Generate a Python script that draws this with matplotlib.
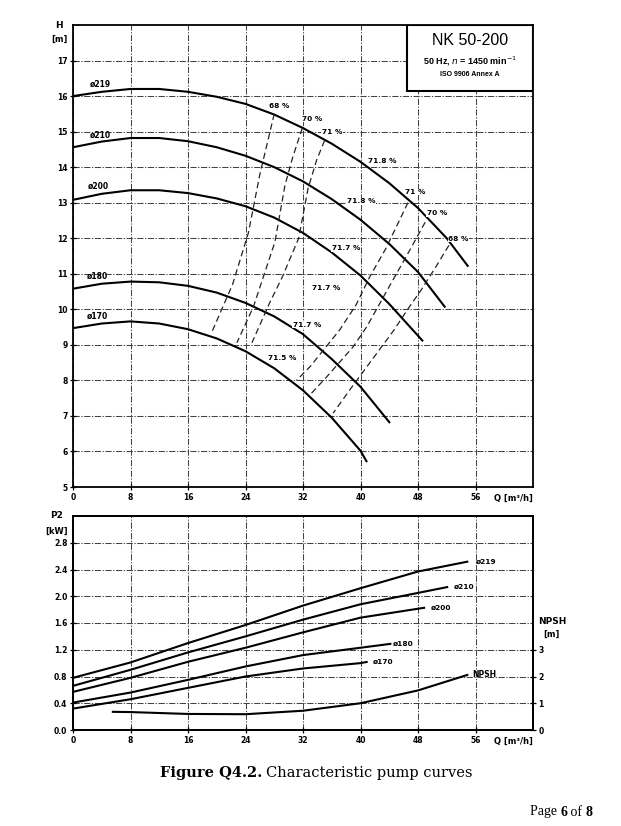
import matplotlib
matplotlib.use('Agg')
import matplotlib.pyplot as plt
from matplotlib.patches import Rectangle

# ---------------- data ----------------
q_ticks = [0, 8, 16, 24, 32, 40, 48, 56]
q_tick_labels = ['0', '8', '16', '24', '32', '40', '48', '56']
h_ticks = [5, 6, 7, 8, 9, 10, 11, 12, 13, 14, 15, 16, 17]
p_ticks = [0.0, 0.4, 0.8, 1.2, 1.6, 2.0, 2.4, 2.8]
p_tick_labels = ['0.0', '0.4', '0.8', '1.2', '1.6', '2.0', '2.4', '2.8']
npsh_ticks = [0, 1, 2, 3]

# H(Q) curves
q_h219 = [0, 4, 8, 12, 16, 20, 24, 28, 32, 36, 40, 44, 48, 52, 55]
h_h219 = [16.0, 16.12, 16.2, 16.2, 16.12, 15.98, 15.78, 15.48, 15.1, 14.66, 14.15, 13.55, 12.85, 12.0, 11.2]
q_h210 = [0, 4, 8, 12, 16, 20, 24, 28, 32, 36, 40, 44, 48, 51.8]
h_h210 = [14.56, 14.72, 14.82, 14.82, 14.73, 14.56, 14.32, 14.0, 13.6, 13.1, 12.52, 11.84, 11.05, 10.05]
q_h200 = [0, 4, 8, 12, 16, 20, 24, 28, 32, 36, 40, 44, 48.7]
h_h200 = [13.08, 13.25, 13.35, 13.35, 13.27, 13.12, 12.9, 12.58, 12.15, 11.6, 10.95, 10.15, 9.1]
q_h180 = [0, 4, 8, 12, 16, 20, 24, 28, 32, 36, 40, 44.1]
h_h180 = [10.58, 10.72, 10.78, 10.76, 10.66, 10.47, 10.18, 9.8, 9.3, 8.6, 7.82, 6.8]
q_h170 = [0, 4, 8, 12, 16, 20, 24, 28, 32, 36, 40, 40.9]
h_h170 = [9.47, 9.6, 9.66, 9.6, 9.44, 9.18, 8.82, 8.34, 7.72, 6.95, 6.02, 5.7]

diam_labels = ['ø219', 'ø210', 'ø200', 'ø180', 'ø170']
diam_label_q = [2.3, 2.3, 2.1, 1.9, 1.9]
diam_label_h = [16.32, 14.9, 13.46, 10.93, 9.8]

# iso-efficiency (dashed) lines
q_e68l = [28.0, 26.0, 24.4, 22.2, 19.3]
h_e68l = [15.5, 13.8, 12.15, 10.7, 9.35]
q_e70l = [31.9, 30.6, 29.5, 28.1, 25.1, 22.8]
h_e70l = [15.1, 14.3, 13.5, 11.9, 10.07, 9.06]
q_e71l = [35.0, 33.9, 32.7, 31.4, 29.1, 27.4, 24.9]
h_e71l = [14.75, 14.2, 13.4, 12.0, 10.9, 10.2, 9.06]
q_e71r = [46.6, 43.5, 41.3, 39.4, 37.1, 33.0, 31.1]
h_e71r = [13.0, 11.7, 10.92, 10.13, 9.42, 8.39, 8.0]
q_e70r = [49.0, 46.4, 44.3, 40.9, 39.0, 35.3, 33.0]
h_e70r = [12.45, 11.5, 10.75, 9.52, 8.95, 8.1, 7.6]
q_e68r = [52.3, 50.5, 48.3, 46.9, 44.6, 41.6, 38.5, 36.2]
h_e68r = [11.8, 11.2, 10.5, 10.1, 9.4, 8.58, 7.73, 7.08]

eff_labels = ['68 %', '70 %', '71 %', '71.8 %', '71 %', '70 %', '68 %',
              '71.8 %', '71.7 %', '71.7 %', '71.7 %', '71.5 %']
eff_label_q = [27.3, 31.8, 34.6, 41.1, 46.2, 49.2, 52.2, 38.1, 36.0, 33.2, 30.6, 27.1]
eff_label_h = [15.73, 15.36, 15.0, 14.16, 13.3, 12.7, 11.98, 13.04, 11.72, 10.6, 9.56, 8.62]

# P2(Q) curves
q_p219 = [0, 8, 16, 24, 32, 40, 48, 55]
p_p219 = [0.78, 1.01, 1.30, 1.57, 1.86, 2.12, 2.37, 2.52]
q_p210 = [0, 8, 16, 24, 32, 40, 48, 52.2]
p_p210 = [0.66, 0.90, 1.16, 1.40, 1.65, 1.88, 2.05, 2.14]
q_p200 = [0, 8, 16, 24, 32, 40, 49]
p_p200 = [0.57, 0.78, 1.02, 1.23, 1.46, 1.68, 1.83]
q_p180 = [0, 8, 16, 24, 32, 40, 44.3]
p_p180 = [0.41, 0.56, 0.75, 0.95, 1.12, 1.23, 1.29]
q_p170 = [0, 8, 16, 24, 32, 40, 41]
p_p170 = [0.32, 0.46, 0.63, 0.80, 0.92, 1.00, 1.02]
p_label_q = [56.0, 52.9, 49.7, 44.5, 41.7]
p_label_p = [2.52, 2.14, 1.83, 1.29, 1.02]

# NPSH curve (m)
q_npsh = [5.4, 8, 16, 24, 32, 40, 48, 55]
v_npsh = [0.68, 0.67, 0.60, 0.59, 0.72, 1.0, 1.48, 2.07]

# ---------------- figure ----------------
W, Hpx = 621, 826
fig = plt.figure(figsize=(W / 100, Hpx / 100), dpi=100)
fig.patch.set_facecolor('white')

ax1 = fig.add_axes([73 / W, 1 - 487 / Hpx, 460 / W, 462 / Hpx])
ax2 = fig.add_axes([73 / W, 1 - 730 / Hpx, 460 / W, 214 / Hpx])

grid_kw = dict(color='#444444', lw=0.75, ls=(0, (6, 1.5, 1.2, 1.5)))
tick_font = dict(fontsize=5.5, fontweight='bold', family='DejaVu Sans')
curve_kw = dict(color='black', lw=1.5, solid_capstyle='butt', solid_joinstyle='round')
dash_kw = dict(color='#222222', lw=0.9, ls=(0, (5, 3)))

for ax in (ax1, ax2):
    ax.set_xlim(0, 64)
    ax.set_xticks(q_ticks)
    ax.set_xticklabels(q_tick_labels, **tick_font)
    ax.grid(True, **grid_kw)
    ax.set_axisbelow(True)
    for s in ax.spines.values():
        s.set_linewidth(1.3)
    ax.tick_params(direction='inout', length=4, width=0.9, pad=2)

# ---- top panel ----
ax1.set_ylim(5, 18)
ax1.set_yticks(h_ticks)
ax1.set_yticklabels([str(v) for v in h_ticks], **tick_font)

for q, h in [(q_h219, h_h219), (q_h210, h_h210), (q_h200, h_h200),
             (q_h180, h_h180), (q_h170, h_h170)]:
    ax1.plot(q, h, **curve_kw)

for q, h in [(q_e68l, h_e68l), (q_e70l, h_e70l), (q_e71l, h_e71l),
             (q_e71r, h_e71r), (q_e70r, h_e70r), (q_e68r, h_e68r)]:
    ax1.plot(q, h, **dash_kw)

for t, q, h in zip(diam_labels, diam_label_q, diam_label_h):
    ax1.text(q, h, t, fontsize=5.5, fontweight='bold', ha='left', va='center')

for t, q, h in zip(eff_labels, eff_label_q, eff_label_h):
    ax1.text(q, h, t, fontsize=5.3, fontweight='bold', ha='left', va='center',
             bbox=dict(facecolor='white', edgecolor='none', pad=0.3))

# title box
ax1.add_patch(Rectangle((46.5, 16.13), 17.5, 1.87, facecolor='white',
                        edgecolor='black', lw=1.5, zorder=5))
ax1.text(55.25, 17.55, 'NK 50-200', fontsize=11.5, ha='center', va='center', zorder=6,
         family='Liberation Sans')
ax1.text(55.25, 16.98, '50 Hz, $\\it{n}$ = 1450 min$^{-1}$', fontsize=6.5,
         fontweight='bold', ha='center', va='center', zorder=6, family='Liberation Sans')
ax1.text(55.25, 16.6, 'ISO 9906 Annex A', fontsize=5, fontweight='bold',
         ha='center', va='center', zorder=6, family='Liberation Sans')

ax1.text(-0.03, 1.0, 'H', transform=ax1.transAxes, fontsize=6.5, fontweight='bold',
         ha='center', va='center')
ax1.text(-0.03, 0.97, '[m]', transform=ax1.transAxes, fontsize=6, fontweight='bold',
         ha='center', va='center')
ax1.text(1.0, -0.024, 'Q [m³/h]', transform=ax1.transAxes, fontsize=6,
         fontweight='bold', ha='right', va='center')

# ---- bottom panel ----
ax2.set_ylim(0, 3.2)
ax2.set_yticks(p_ticks)
ax2.set_yticklabels(p_tick_labels, **tick_font)

for q, p in [(q_p219, p_p219), (q_p210, p_p210), (q_p200, p_p200),
             (q_p180, p_p180), (q_p170, p_p170)]:
    ax2.plot(q, p, **curve_kw)
for t, q, p in zip(diam_labels, p_label_q, p_label_p):
    ax2.text(q, p, t, fontsize=5.3, fontweight='bold', ha='left', va='center')

ax2r = ax2.twinx()
ax2r.set_ylim(0, 8)
ax2r.set_yticks(npsh_ticks)
ax2r.set_yticklabels([str(v) for v in npsh_ticks], **tick_font)
ax2r.tick_params(direction='inout', length=4, width=0.9, pad=2)
for s in ax2r.spines.values():
    s.set_linewidth(1.3)
ax2r.plot(q_npsh, v_npsh, **curve_kw)
ax2r.text(55.6, v_npsh[-1], 'NPSH', fontsize=5.5, fontweight='bold',
          ha='left', va='center')

ax2.text(-0.035, 1.0, 'P2', transform=ax2.transAxes, fontsize=6.5, fontweight='bold',
         ha='center', va='center')
ax2.text(-0.035, 0.93, '[kW]', transform=ax2.transAxes, fontsize=6, fontweight='bold',
         ha='center', va='center')
ax2.text(1.041, 0.505, 'NPSH', transform=ax2.transAxes, fontsize=6.5,
         fontweight='bold', ha='center', va='center')
ax2.text(1.041, 0.445, '[m]', transform=ax2.transAxes, fontsize=6,
         fontweight='bold', ha='center', va='center')
ax2.text(1.0, -0.052, 'Q [m³/h]', transform=ax2.transAxes, fontsize=6,
         fontweight='bold', ha='right', va='center')

# ---- caption and page ----
t1 = fig.text(160 / W, 1 - 773 / Hpx, 'Figure Q4.2.', fontsize=10.5, fontweight='bold',
              family='DejaVu Serif', ha='left', va='center')
fig.canvas.draw()
bb = t1.get_window_extent()
fig.text(bb.x1 / W + 4 / W, 1 - 773 / Hpx, 'Characteristic pump curves', fontsize=10.5,
         family='DejaVu Serif', ha='left', va='center')

p1 = fig.text(530 / W, 1 - 812 / Hpx, 'Page ', fontsize=10, family='Liberation Serif',
              ha='left', va='center')
fig.canvas.draw()
x = p1.get_window_extent().x1
p2 = fig.text(x / W, 1 - 812 / Hpx, '6', fontsize=10, fontweight='bold',
              family='Liberation Serif', ha='left', va='center')
fig.canvas.draw()
x = p2.get_window_extent().x1
p3 = fig.text(x / W, 1 - 812 / Hpx, ' of ', fontsize=10, family='Liberation Serif',
              ha='left', va='center')
fig.canvas.draw()
x = p3.get_window_extent().x1
fig.text(x / W, 1 - 812 / Hpx, '8', fontsize=10, fontweight='bold',
         family='Liberation Serif', ha='left', va='center')

fig.savefig('out.png', dpi=100, facecolor='white')
